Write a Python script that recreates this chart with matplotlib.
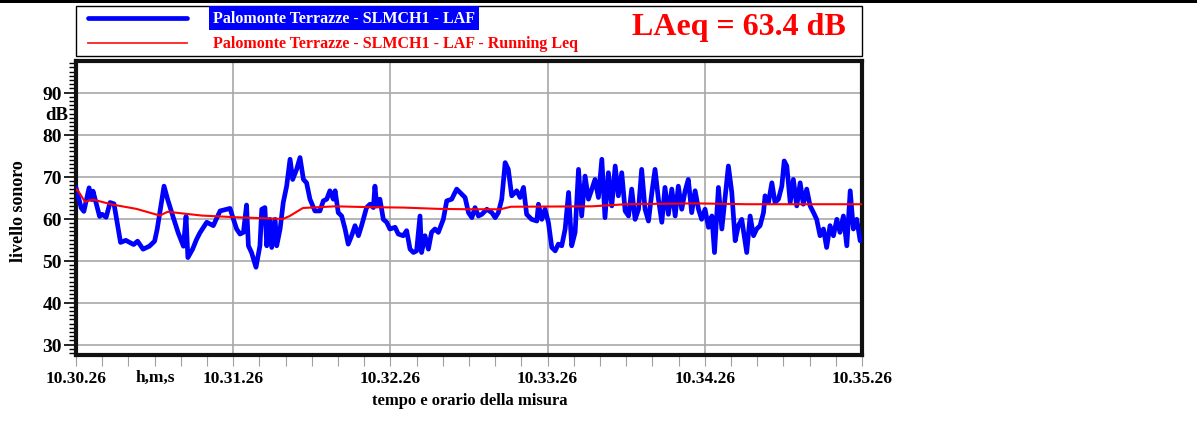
import matplotlib
matplotlib.use("Agg")
import matplotlib.pyplot as plt
from matplotlib.lines import Line2D
from matplotlib.patches import Rectangle
from matplotlib.ticker import MultipleLocator, FixedLocator

# ---------------- data ----------------
# seconds from 10.30.26
laf_t = [0, 2, 3, 5, 6, 6.5, 9, 10, 11.5, 13, 14.5, 17, 19, 22, 23.5, 25.6, 28, 30, 31, 33.6,
         35, 37, 39, 41, 42, 42.7, 44.5, 46, 47.3, 49.9, 52.4, 55.0, 57.5, 58.8, 60.1, 61.3, 62.6,
         63.9, 65.1, 65.8, 67.0, 68.7, 70.2, 70.9, 72.1, 72.8, 74.0, 74.7, 76.0, 76.6, 77.9, 79.1,
         80.4, 81.7, 82.7, 84.2, 85.5, 86.8, 88.0, 89.3, 91.2, 93.1, 94.4, 95.7, 96.9, 98.2, 98.9,
         100.1, 101.4, 102.7, 103.9, 105.2, 106.5, 107.8, 109.0, 110.9, 112.2, 113.5, 114.1, 114.8,
         116.0, 117.3, 118.6, 119.8, 121.8, 123.0, 124.9, 126.2, 127.5, 128.8, 130.0, 131.3, 131.9,
         133.2, 134.5, 135.7, 137.0, 138.3, 140.2, 141.5, 143.4, 145.3, 146.6, 148.5, 149.8, 151.1,
         152.3, 153.6, 154.9, 156.8, 158.7, 160.0, 161.2, 162.5, 163.8, 165.0, 166.3, 168.2, 169.5,
         170.8, 172.0, 173.9, 175.9, 176.5, 177.8, 179.0, 180.3, 181.6, 182.9, 184.1, 185.4, 186.7,
         188.0, 189.2, 190.5, 191.8, 193.0, 194.3, 195.6, 196.9, 198.1, 199.4, 200.7, 201.9, 203.2,
         204.5, 205.8, 207.0, 208.3, 209.6, 210.9, 212.1, 213.4, 214.7, 215.9, 217.2, 218.5, 219.8,
         221.0, 222.3, 223.6, 224.8, 226.1, 227.4, 228.7, 229.9, 231.2, 232.5, 233.7, 235.0, 236.3,
         237.6, 238.8, 240.1, 241.4, 242.7, 243.7, 245.2, 246.5, 247.7, 249.0, 250.3, 251.6, 252.8,
         254.1, 255.4, 256.0, 257.3, 258.6, 259.8, 261.1, 262.4, 263.0, 264.3, 265.6, 266.8, 268.1,
         269.4, 270.3, 271.3, 272.6, 273.8, 275.1, 276.4, 277.6, 278.9, 280.2, 281.5, 282.7, 284.0,
         285.3, 286.5, 287.8, 289.1, 290.4, 291.6, 292.9, 294.2, 295.5, 296.7, 298.0, 299.3, 300]
laf_db = [67.3, 62.5, 61.7, 67.3, 64.5, 66.5, 60.5, 61.0, 60.3, 63.8, 63.5, 54.3, 54.8, 53.8, 54.6,
          52.7, 53.4, 54.6, 57.5, 67.7, 64.5, 60.5, 56.6, 53.4, 60.5, 50.7, 52.7, 55.0, 56.6, 59.1,
          58.3, 61.8, 62.2, 62.4, 59.8, 57.5, 56.3, 56.7, 63.2, 53.5, 51.9, 48.4, 53.5, 62.2, 62.6,
          53.5, 59.8, 53.1, 59.8, 53.5, 57.5, 63.8, 67.7, 74.1, 69.3, 71.7, 74.5, 69.3, 68.5, 64.6,
          61.8, 61.8, 64.2, 64.6, 66.6, 64.6, 66.6, 61.4, 60.6, 57.5, 53.9, 55.9, 58.3, 55.9, 58.3,
          62.6, 63.4, 62.6, 67.7, 63.0, 64.6, 59.8, 59.1, 57.5, 57.9, 56.3, 55.9, 57.1, 52.7, 51.9,
          52.3, 60.6, 51.9, 55.9, 52.7, 56.7, 57.5, 56.7, 59.8, 64.2, 64.6, 67.0, 66.2, 65.0, 61.4,
          60.2, 62.6, 60.6, 61.0, 62.2, 61.4, 60.2, 61.4, 64.6, 73.3, 71.7, 65.4, 66.6, 65.0, 67.4,
          61.0, 59.8, 59.4, 63.4, 59.8, 62.2, 59.1, 53.1, 52.3, 53.9, 53.5, 57.5, 66.2, 53.5, 56.7,
          71.7, 60.6, 70.1, 64.6, 67.0, 69.3, 65.0, 74.1, 60.2, 70.9, 63.0, 72.5, 65.4, 70.9, 61.8,
          60.6, 67.0, 59.8, 62.2, 71.7, 62.2, 59.4, 66.2, 71.7, 64.6, 59.1, 67.4, 61.0, 67.0, 60.6,
          67.7, 62.2, 66.6, 69.3, 61.4, 66.6, 62.2, 59.8, 62.2, 57.9, 60.6, 51.9, 67.4, 57.5, 64.6,
          72.5, 66.2, 54.7, 58.3, 59.8, 54.3, 51.9, 60.6, 55.9, 57.5, 58.3, 61.4, 65.4, 63.8, 68.5,
          63.8, 64.6, 67.7, 73.7, 72.5, 63.8, 69.3, 63.0, 68.5, 63.4, 67.0, 63.0, 61.4, 59.8, 55.9,
          57.5, 53.1, 58.3, 55.9, 59.8, 56.7, 60.6, 53.5, 66.6, 57.5, 59.8, 54.7, 55.0]

leq_t = [0, 1, 3.4, 6.5, 14, 23, 32, 35, 48, 61, 79, 81.6, 86.6, 99, 112, 125, 138, 150,
         162, 166, 197, 210, 236, 256, 274, 300]
leq_db = [67.0, 66.4, 64.0, 64.5, 63.3, 62.3, 60.7, 61.6, 60.7, 60.3, 59.9, 60.6, 62.5, 62.9,
          62.7, 62.6, 62.3, 62.2, 62.2, 62.8, 62.9, 63.4, 63.6, 63.4, 63.4, 63.4]

x_tick_pos = [0, 60, 120, 180, 240, 300]
x_tick_labels = ["10.30.26", "10.31.26", "10.32.26", "10.33.26", "10.34.26", "10.35.26"]
y_ticks = [30, 40, 50, 60, 70, 80, 90]

series_name = "Palomonte Terrazze - SLMCH1 - LAF"
leq_name = "Palomonte Terrazze - SLMCH1 - LAF - Running Leq"
laeq_text = "LAeq = 63.4 dB"

# ---------------- figure ----------------
W, H = 1197, 435
fig = plt.figure(figsize=(W / 100, H / 100), dpi=100)
FONT = "Liberation Serif"
plt.rcParams["font.family"] = FONT
plt.rcParams["font.weight"] = "bold"

def fx(x):
    return x / W

def fy(y):
    return 1 - y / H

L, R, T, B = 76, 862, 62, 356
ax = fig.add_axes([fx(L), fy(B), fx(R) - fx(L), fy(T) - fy(B)])

ax.plot(laf_t, laf_db, color="#0000ff", lw=3.4, solid_joinstyle="round", zorder=3)
ax.plot(leq_t, leq_db, color="#ff0000", lw=1.5, zorder=4)

ax.set_xlim(0, 300)
ax.set_ylim(27.5, 97.5)

ax.xaxis.set_major_locator(FixedLocator(x_tick_pos))
ax.set_xticklabels(x_tick_labels)
ax.xaxis.set_minor_locator(MultipleLocator(10))
ax.yaxis.set_major_locator(FixedLocator(y_ticks))
ax.yaxis.set_minor_locator(MultipleLocator(1))

ax.grid(True, which="major", color="#a8a8a8", lw=1.2)
ax.set_axisbelow(True)

ax.tick_params(axis="x", which="both", direction="out", length=8, width=0.8,
               color="#a0a0a0", pad=3, labelsize=12.5)
ax.tick_params(axis="y", which="major", direction="out", length=9, width=1.2,
               color="black", pad=1, labelsize=14)
ax.tick_params(axis="y", which="minor", direction="out", length=5, width=1, color="black")
for lab in ax.get_xticklabels() + ax.get_yticklabels():
    lab.set_fontweight("bold")
    lab.set_fontfamily(FONT)

for s in ax.spines.values():
    s.set_linewidth(3)
    s.set_color("#111111")

# axis texts
fig.text(fx(57), fy(116), "dB", ha="center", va="center", fontsize=13.5,
         fontweight="bold", family=FONT)
fig.text(fx(19), fy(211), "livello sonoro", ha="center", va="center", rotation=90,
         fontsize=13, fontweight="bold", family=FONT)
fig.text(fx(155), fy(378), "h,m,s", ha="center", va="center", fontsize=12.5,
         fontweight="bold", family=FONT)
fig.text(fx(470), fy(401), "tempo e orario della misura", ha="center", va="center",
         fontsize=12, fontweight="bold", family=FONT)

# top black bar
fig.add_artist(Rectangle((0, fy(3.5)), 1, fy(0) - fy(3.5), transform=fig.transFigure,
                         facecolor="black", edgecolor="none"))

# legend box
fig.add_artist(Rectangle((fx(75.5), fy(56.5)), fx(861.5) - fx(75.5), fy(6.5) - fy(56.5),
                         transform=fig.transFigure, facecolor="white",
                         edgecolor="black", lw=1))
fig.add_artist(Line2D([fx(88), fx(187)], [fy(19), fy(19)], transform=fig.transFigure,
                      color="#0000ff", lw=3.4, solid_capstyle="round"))
fig.add_artist(Line2D([fx(88), fx(187)], [fy(44), fy(44)], transform=fig.transFigure,
                      color="#ff2020", lw=1.3))
fig.text(fx(213), fy(19), series_name, ha="left", va="center", color="white",
         fontsize=11.5, fontweight="bold", family=FONT,
         bbox=dict(facecolor="#0000ff", edgecolor="none", pad=2.5))
fig.text(fx(213), fy(44), leq_name, ha="left", va="center", color="#ff0000",
         fontsize=11.5, fontweight="bold", family=FONT)
fig.text(fx(739), fy(27), laeq_text, ha="center", va="center", color="#ff0000",
         fontsize=23, fontweight="bold", family=FONT)

fig.savefig("out.png", dpi=100)
